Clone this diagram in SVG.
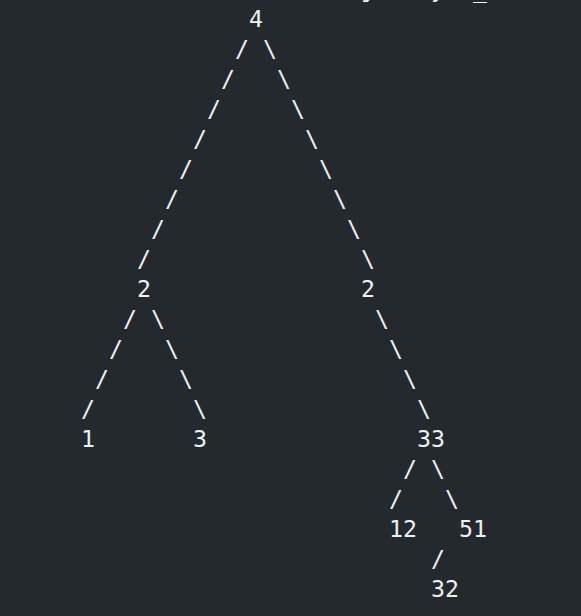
<svg xmlns="http://www.w3.org/2000/svg" width="581" height="616" viewBox="0 0 581 616">
<style>
text{font-family:"DejaVu Sans Mono","Liberation Mono",monospace;font-size:23.25px;fill:#eef0f2;text-anchor:middle}
</style>
<rect width="581" height="616" fill="#24292e"/>
<g id="partial-line">
<text x="368" y="-3">j</text><text x="438" y="-3">y</text><text x="480" y="-3">_</text>
</g>
<g id="connectors">
<text x="242" y="57">/</text><text x="228" y="87">/</text><text x="214" y="117">/</text><text x="200" y="147">/</text>
<text x="186" y="177">/</text><text x="172" y="207">/</text><text x="158" y="237">/</text><text x="144" y="267">/</text>
<text x="270" y="57">\</text><text x="284" y="87">\</text><text x="298" y="117">\</text><text x="312" y="147">\</text>
<text x="326" y="177">\</text><text x="340" y="207">\</text><text x="354" y="237">\</text><text x="368" y="267">\</text>
<text x="130" y="327">/</text><text x="116" y="357">/</text><text x="102" y="387">/</text><text x="88" y="417">/</text>
<text x="158" y="327">\</text><text x="172" y="357">\</text><text x="186" y="387">\</text><text x="200" y="417">\</text>
<text x="382" y="327">\</text><text x="396" y="357">\</text><text x="410" y="387">\</text><text x="424" y="417">\</text>
<text x="410" y="477">/</text><text x="396" y="507">/</text>
<text x="438" y="477">\</text><text x="452" y="507">\</text>
<text x="438" y="567">/</text>
</g>
<g id="node-4"><text x="256" y="27">4</text></g>
<g id="node-2-left"><text x="144" y="297">2</text></g>
<g id="node-2-right"><text x="368" y="297">2</text></g>
<g id="node-1"><text x="88" y="447">1</text></g>
<g id="node-3"><text x="200" y="447">3</text></g>
<g id="node-33"><text x="431" y="447">33</text></g>
<g id="node-12"><text x="403" y="537">12</text></g>
<g id="node-51"><text x="473" y="537">51</text></g>
<g id="node-32"><text x="445" y="597">32</text></g>
</svg>
